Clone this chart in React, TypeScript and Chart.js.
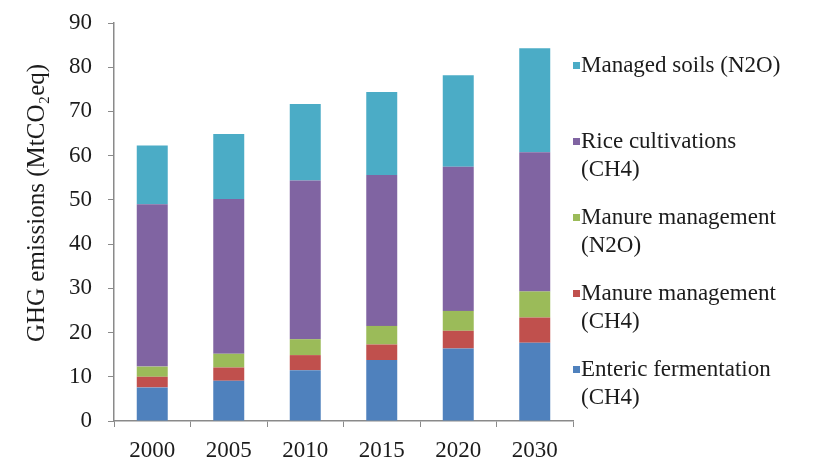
import React, { useEffect, useRef } from "react";
import { Chart, registerables } from "chart.js";

Chart.register(...registerables);

const years = ["2000", "2005", "2010", "2015", "2020", "2030"];
const entericCH4 = [7.6, 9.1, 11.5, 13.8, 16.4, 17.7];
const manureCH4 = [2.4, 3.0, 3.4, 3.5, 4.0, 5.7];
const manureN2O = [2.3, 3.1, 3.6, 4.2, 4.5, 5.9];
const riceCH4 = [36.7, 35.0, 35.9, 34.1, 32.6, 31.5];
const soilsN2O = [13.3, 14.7, 17.3, 18.8, 20.7, 23.5];

const seriesLabels = [
  ["Enteric fermentation", "(CH4)"],
  ["Manure management", "(CH4)"],
  ["Manure management", "(N2O)"],
  ["Rice cultivations", "(CH4)"],
  ["Managed soils (N2O)"],
];
const seriesColors = ["#4F81BD", "#C0504D", "#9BBB59", "#8064A2", "#4BACC6"];
const yTitle = "GHG emissions (MtCO\u2082eq)";

const FONT = "'Liberation Serif', 'Times New Roman', serif";
const TEXT = "#1c1c1c";

const sidePlugin = {
  id: "sideTexts",
  afterDraw(chart: any) {
    const ctx = chart.ctx;
    ctx.save();
    // Y axis title
    ctx.fillStyle = TEXT;
    ctx.font = `25px ${FONT}`;
    ctx.translate(37, 203);
    ctx.rotate(-Math.PI / 2);
    ctx.textAlign = "center";
    ctx.textBaseline = "middle";
    ctx.fillText(yTitle, 0, 0);
    ctx.restore();

    // Legend (reverse order, top = last dataset)
    ctx.save();
    ctx.font = `23px ${FONT}`;
    ctx.textAlign = "left";
    ctx.textBaseline = "alphabetic";
    const ds = chart.data.datasets;
    const x0 = 573;
    let baseline = 72;
    for (let i = ds.length - 1; i >= 0; i--) {
      const lines: string[] = ds[i].legendLines;
      ctx.fillStyle = ds[i].backgroundColor;
      ctx.fillRect(x0, baseline - 10, 7, 7);
      ctx.fillStyle = TEXT;
      lines.forEach((ln, k) => ctx.fillText(ln, x0 + 8, baseline + k * 28));
      baseline += 76;
    }
    ctx.restore();
  },
};

export default function App() {
  const ref = useRef<HTMLCanvasElement | null>(null);
  useEffect(() => {
    if (!ref.current) return;
    const series = [entericCH4, manureCH4, manureN2O, riceCH4, soilsN2O];
    const chart = new Chart(ref.current, {
      type: "bar",
      data: {
        labels: years,
        datasets: series.map((d, i) => ({
          label: seriesLabels[i].join(" "),
          legendLines: seriesLabels[i],
          data: d,
          backgroundColor: seriesColors[i],
          borderWidth: 0,
          categoryPercentage: 1,
          barPercentage: 0.405,
        })) as any,
      },
      options: {
        responsive: false,
        animation: false,
        devicePixelRatio: 1,
        layout: { padding: { left: 0, right: 247, top: 23, bottom: 0 } },
        plugins: {
          legend: { display: false },
          tooltip: { enabled: false },
        },
        scales: {
          x: {
            stacked: true,
            grid: {
              offset: true,
              drawOnChartArea: false,
              drawTicks: true,
              tickLength: 6,
              color: "#8a8a8a",
            },
            border: { color: "#8a8a8a", width: 1.5 },
            ticks: {
              color: TEXT,
              font: { family: FONT, size: 23 },
              padding: 10,
            },
            afterFit(scale: any) {
              scale.height = 48;
              scale.paddingLeft = 0;
              scale.paddingRight = 0;
            },
          },
          y: {
            stacked: true,
            min: 0,
            max: 90,
            ticks: {
              stepSize: 10,
              color: TEXT,
              font: { family: FONT, size: 23 },
              padding: 16,
            },
            grid: {
              drawOnChartArea: false,
              drawTicks: true,
              tickLength: 6,
              color: "#8a8a8a",
            },
            border: { color: "#8a8a8a", width: 1.5 },
            afterFit(scale: any) {
              scale.width = 114;
              scale.paddingTop = 0;
              scale.paddingBottom = 0;
            },
          },
        },
      },
      plugins: [sidePlugin],
    });
    return () => chart.destroy();
  }, []);
  return (
    <div style={{ position: "fixed", left: 0, top: 0, width: 820, height: 469, background: "#fff" }}>
      <canvas ref={ref} width={820} height={469} />
    </div>
  );
}
